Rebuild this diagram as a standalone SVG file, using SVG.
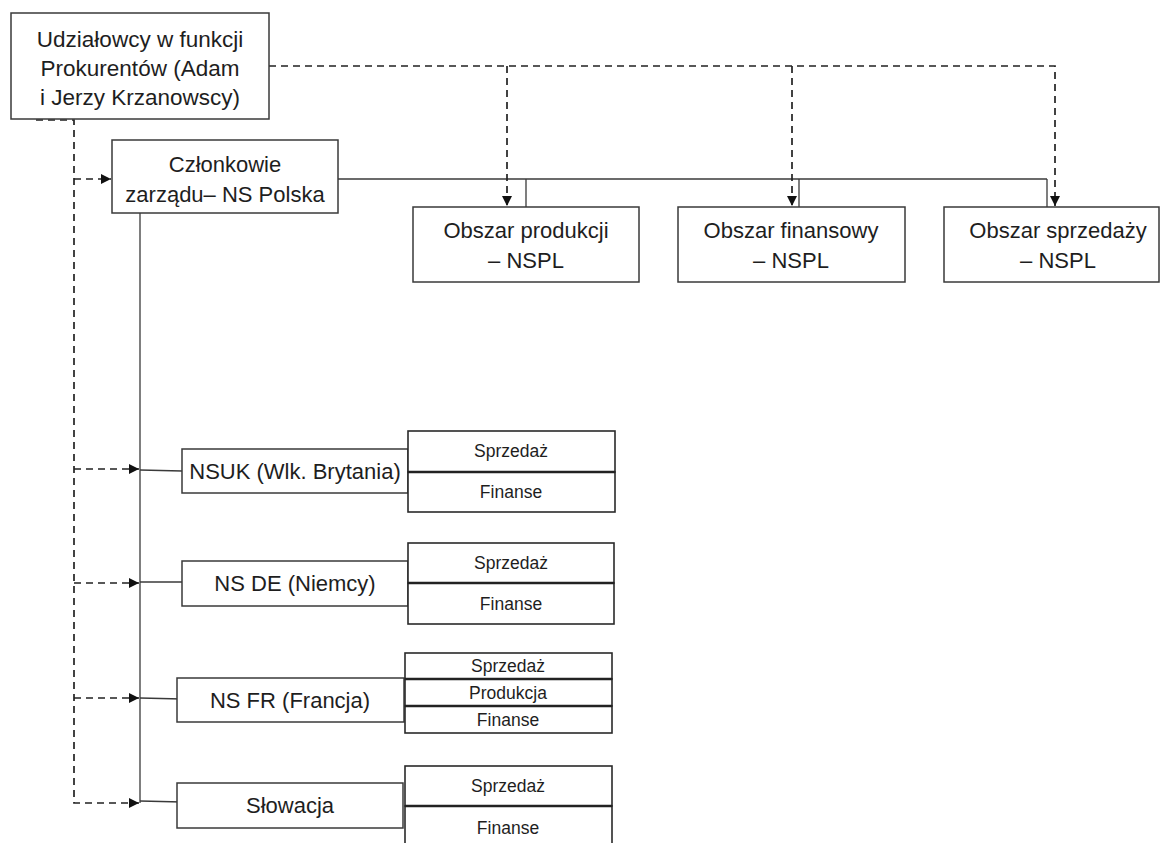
<svg xmlns="http://www.w3.org/2000/svg" width="1161" height="843" viewBox="0 0 1161 843">
<defs>
<style>
.box{fill:#fff;stroke:#3a3a3a;stroke-width:1.5}
.cell{fill:#fff;stroke:#2a2a2a;stroke-width:1.6}
.t{font-family:"Liberation Sans",Arial,sans-serif;fill:#1e1e1e;text-anchor:middle}
.big{font-size:22px}
.top{font-size:22.5px}
.sm{font-size:17.5px}
.solid{fill:none;stroke:#3a3a3a;stroke-width:1.3}
.dash{fill:none;stroke:#222;stroke-width:1.7;stroke-dasharray:7 5}
</style>
<marker id="ah" viewBox="0 0 10 10" refX="10" refY="5" markerWidth="10" markerHeight="10" markerUnits="userSpaceOnUse" orient="auto">
<path d="M0,0 L10,5 L0,10 Z" fill="#111"/>
</marker>
</defs>
<rect width="1161" height="843" fill="#fff"/>

<g id="connectors">
<!-- solid -->
<path class="solid" d="M338,179 H1047"/>
<path class="solid" d="M526,179 V207"/>
<path class="solid" d="M799,179 V208"/>
<path class="solid" d="M1047,179 V209"/>
<path class="solid" d="M140,213 V803"/>
<path class="solid" d="M140,470 L182,471"/>
<path class="solid" d="M140,582 L182,582"/>
<path class="solid" d="M140,698 L182,699"/>
<path class="solid" d="M140,801 L182,802"/>
<!-- dashed top -->
<path class="dash" d="M269,66 H1055 V206" marker-end="url(#ah)"/>
<path class="dash" d="M507,66 V206" marker-end="url(#ah)"/>
<path class="dash" d="M792,66 V206" marker-end="url(#ah)"/>
<!-- dashed left -->
<path class="dash" d="M36,120 H74 V803 H139" marker-end="url(#ah)"/>
<path class="dash" d="M74,179 H111" marker-end="url(#ah)"/>
<path class="dash" d="M74,469 H139" marker-end="url(#ah)"/>
<path class="dash" d="M74,583 H139" marker-end="url(#ah)"/>
<path class="dash" d="M74,698 H139" marker-end="url(#ah)"/>
</g>

<g id="n-udzialowcy">
<rect class="box" x="11" y="13" width="258" height="106"/>
<text class="t top" x="140" y="47">Udziałowcy w funkcji</text>
<text class="t top" x="140" y="76">Prokurentów (Adam</text>
<text class="t top" x="140" y="105">i Jerzy Krzanowscy)</text>
</g>

<g id="n-czlonkowie">
<rect class="box" x="112" y="140" width="226" height="73"/>
<text class="t big" x="225" y="172">Członkowie</text>
<text class="t big" x="225" y="202">zarządu– NS Polska</text>
</g>

<g id="n-produkcji">
<rect class="box" x="413" y="207" width="226" height="75"/>
<text class="t big" x="526" y="238">Obszar produkcji</text>
<text class="t big" x="526" y="268">– NSPL</text>
</g>

<g id="n-finansowy">
<rect class="box" x="678" y="207" width="227" height="75"/>
<text class="t big" x="791" y="238">Obszar finansowy</text>
<text class="t big" x="791" y="268">– NSPL</text>
</g>

<g id="n-sprzedazy">
<rect class="box" x="944" y="207" width="215" height="75"/>
<text class="t big" x="1058" y="238">Obszar sprzedaży</text>
<text class="t big" x="1058" y="268">– NSPL</text>
</g>

<g id="n-nsuk">
<rect class="box" x="182" y="449" width="226" height="44"/>
<text class="t big" x="295" y="479">NSUK (Wlk. Brytania)</text>
<rect class="cell" x="408" y="431" width="207" height="41"/>
<rect class="cell" x="408" y="472" width="207" height="40"/>
<line x1="408" y1="472" x2="615" y2="472" stroke="#222" stroke-width="2.6"/>
<text class="t sm" x="511" y="457">Sprzedaż</text>
<text class="t sm" x="511" y="498">Finanse</text>
</g>

<g id="n-nsde">
<rect class="box" x="182" y="561" width="226" height="45"/>
<text class="t big" x="295" y="591">NS DE (Niemcy)</text>
<rect class="cell" x="408" y="543" width="206" height="40"/>
<rect class="cell" x="408" y="583" width="206" height="41"/>
<line x1="408" y1="583" x2="614" y2="583" stroke="#222" stroke-width="2.6"/>
<text class="t sm" x="511" y="569">Sprzedaż</text>
<text class="t sm" x="511" y="610">Finanse</text>
</g>

<g id="n-nsfr">
<rect class="box" x="177" y="678" width="227" height="44"/>
<text class="t big" x="290" y="708">NS FR (Francja)</text>
<rect class="cell" x="405" y="653" width="207" height="26"/>
<rect class="cell" x="405" y="679" width="207" height="27"/>
<rect class="cell" x="405" y="706" width="207" height="27"/>
<line x1="405" y1="679" x2="612" y2="679" stroke="#222" stroke-width="2.6"/>
<line x1="405" y1="706" x2="612" y2="706" stroke="#222" stroke-width="2.6"/>
<text class="t sm" x="508" y="672">Sprzedaż</text>
<text class="t sm" x="508" y="699">Produkcja</text>
<text class="t sm" x="508" y="726">Finanse</text>
</g>

<g id="n-slowacja">
<rect class="box" x="177" y="783" width="226" height="45"/>
<text class="t big" x="290" y="813">Słowacja</text>
<rect class="cell" x="405" y="766" width="207" height="40"/>
<rect class="cell" x="405" y="806" width="207" height="42"/>
<line x1="405" y1="806" x2="612" y2="806" stroke="#222" stroke-width="2.6"/>
<text class="t sm" x="508" y="792">Sprzedaż</text>
<text class="t sm" x="508" y="834">Finanse</text>
</g>
</svg>
